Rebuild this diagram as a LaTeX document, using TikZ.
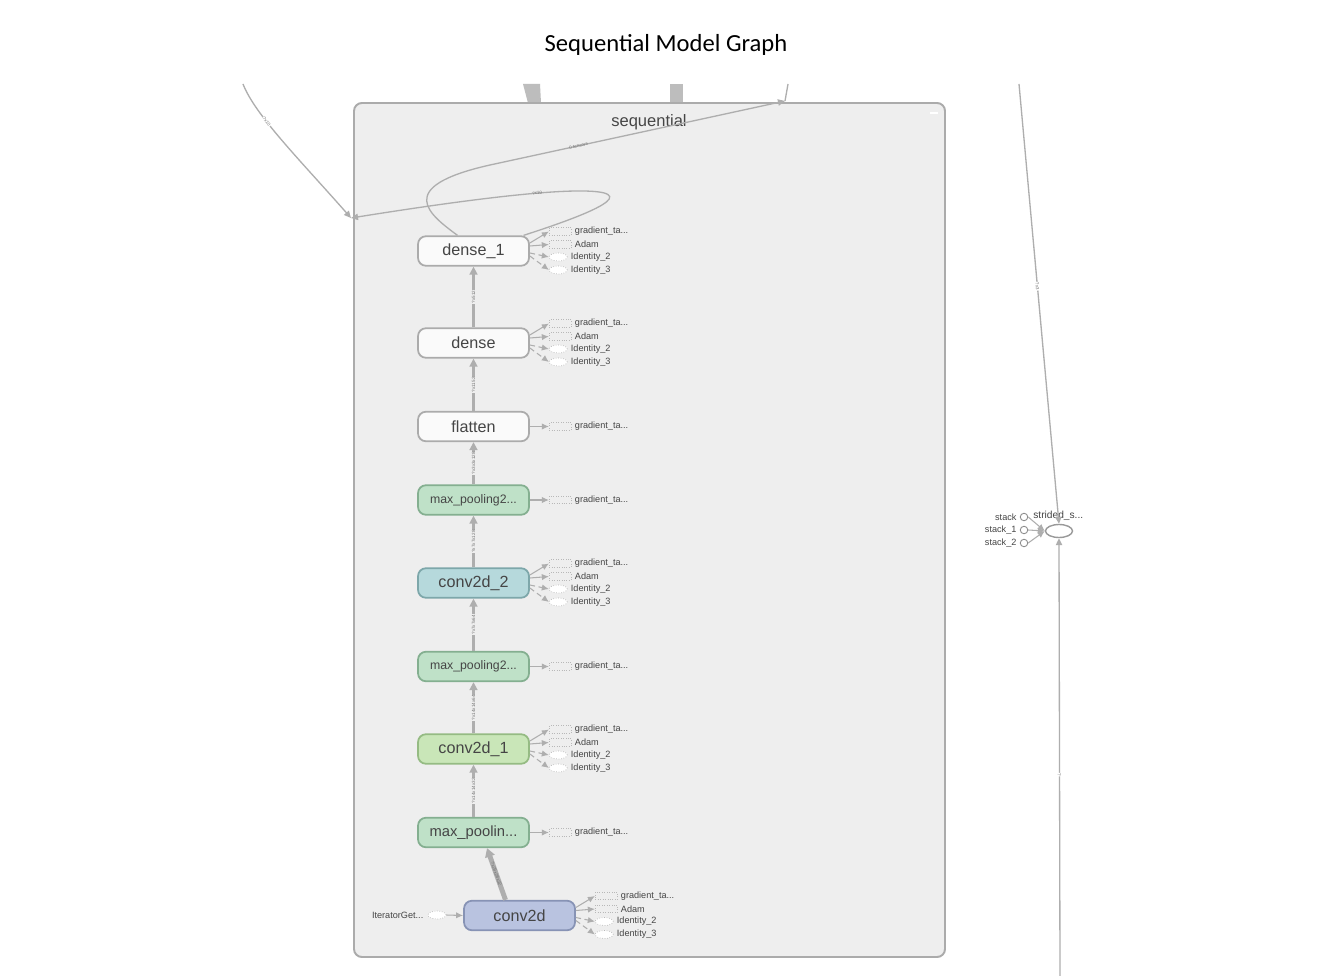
\documentclass[tikz,border=0pt]{standalone}
\usepackage{fontspec}
\setmainfont{Liberation Sans}
\newfontfamily\titlefont{Carlito}
\usetikzlibrary{calc,shapes.geometric,arrows.meta}

\definecolor{panelbg}{HTML}{EEEEEE}
\definecolor{panelrim}{HTML}{ABABAB}
\definecolor{edgegray}{HTML}{AEAEAE}
\definecolor{bargray}{HTML}{BDBDBD}
\definecolor{labgray}{HTML}{454545}
\definecolor{plainfill}{HTML}{FAFAFA}
\definecolor{plainrim}{HTML}{ABABAB}
\definecolor{poolfill}{HTML}{BFE1C8}
\definecolor{poolrim}{HTML}{84AF90}
\definecolor{convtwofill}{HTML}{B6D9DC}
\definecolor{convtworim}{HTML}{7DA7AA}
\definecolor{convonefill}{HTML}{C9E6B8}
\definecolor{convonerim}{HTML}{95BB83}
\definecolor{convfill}{HTML}{B9C3E0}
\definecolor{convrim}{HTML}{8793B5}

\tikzset{
  opnode/.style={draw=plainrim, fill=plainfill, line width=1pt, rounded corners=4.5pt,
    minimum width=2.22cm, minimum height=0.59cm, inner sep=0pt, text=labgray,
    font=\fontsize{9.2}{10}\selectfont},
  poolop/.style={opnode, draw=poolrim, fill=poolfill},
  sidebox/.style={draw=black!28, densely dotted, fill=panelbg, anchor=west,
    minimum width=0.44cm, minimum height=0.15cm, inner sep=0pt},
  sideoval/.style={ellipse, draw=black!28, densely dotted, fill=white, anchor=west,
    minimum width=0.36cm, minimum height=0.16cm, inner sep=0pt},
  sidelabel/.style={font=\fontsize{5.2}{6}\selectfont, text=labgray, anchor=west, inner sep=0pt},
  sideflow/.style={draw=edgegray, line width=0.6pt, -{Latex[length=4pt,width=3.6pt]}},
  sidedash/.style={sideflow, densely dashed},
  flow/.style={draw=edgegray, line width=1.4pt, -{Triangle[length=4.5pt,width=4.4pt]}},
  thinflow/.style={draw=edgegray, line width=0.75pt, -{Triangle[length=4pt,width=3.6pt]}},
  edgelab/.style={sloped, font=\fontsize{2.6}{3}\selectfont, text=black!55,
    fill=panelbg, inner sep=0.3pt},
  stackdot/.style={circle, draw=black!45, fill=white, line width=0.5pt,
    minimum size=0.15cm, inner sep=0pt},
}

% four outputs to the right of an op
\newcommand{\fourouts}[2]{%
  \node[sidebox] (#1-grad) at ($(#1.east)+(#2,-19.5)$) {};
  \node[sidebox] (#1-adam) at ($(#1.east)+(#2,-6.5)$) {};
  \node[sideoval] (#1-idtwo) at ($(#1.east)+(#2,6)$) {};
  \node[sideoval] (#1-idthree) at ($(#1.east)+(#2,19)$) {};
  \node[sidelabel] at ($(#1-grad.east)+(3,0)$) {gradient\_ta...};
  \node[sidelabel] at ($(#1-adam.east)+(3,0)$) {Adam};
  \node[sidelabel] at ($(#1-idtwo.east)+(3,0)$) {Identity\_2};
  \node[sidelabel] at ($(#1-idthree.east)+(3,0)$) {Identity\_3};
  \draw[sideflow] ($(#1.east)+(0,-8)$) -- (#1-grad.west);
  \draw[sideflow] ($(#1.east)+(0,-5)$) -- (#1-adam.west);
  \draw[sidedash] ($(#1.east)+(0,2)$) -- (#1-idtwo.west);
  \draw[sidedash] ($(#1.east)+(0,5)$) -- (#1-idthree.west);
}
% one gradient output to the right of an op
\newcommand{\oneout}[1]{%
  \node[sidebox] (#1-grad) at ($(#1.east)+(19,0)$) {};
  \node[sidelabel] at ($(#1-grad.east)+(3,0)$) {gradient\_ta...};
  \draw[sideflow] (#1.east) -- (#1-grad.west);
}

\begin{document}
\begin{tikzpicture}[x=0.02cm, y=-0.02cm]
  %%%%% FRAME %%%%%
  \fill[white] (0,0) rectangle (1342,976);
  \useasboundingbox (0,0) rectangle (1342,976);

  \node[font=\titlefont\fontsize{14}{16}\selectfont] (title) at (666,44.5) {Sequential Model Graph};

  \fill[bargray] (523,84) -- (540,84) -- (541,103) -- (528,103) -- cycle;
  \fill[bargray] (670,84) -- (683,84) -- (683,103) -- (670,103) -- cycle;

  %%%%% SEQUENTIAL PANEL %%%%%
  \draw[panelrim, fill=panelbg, line width=1.1pt, rounded corners=4.5pt] (354,103) rectangle (945,957);
  \draw[white, line width=1pt] (930,113) -- (938,113);
  \node[font=\fontsize{9.4}{10}\selectfont, text=labgray] (seqname) at (649,122.5) {sequential};

  %%%%% OPS %%%%%
  \node[opnode] (dense1) at (473.5,251) {dense\_1};
  \node[opnode] (dense) at (473.5,343) {dense};
  \node[opnode] (flatten) at (473.5,426.5) {flatten};
  \node[poolop, font=\fontsize{7}{8}\selectfont] (poolC) at (473.5,500) {max\_pooling2...};
  \node[opnode, draw=convtworim, fill=convtwofill] (conv2) at (473.5,583) {conv2d\_2};
  \node[poolop, font=\fontsize{7}{8}\selectfont] (poolB) at (473.5,666.5) {max\_pooling2...};
  \node[opnode, draw=convonerim, fill=convonefill] (conv1) at (473.5,749) {conv2d\_1};
  \node[poolop, font=\fontsize{8.4}{9}\selectfont] (poolA) at (473.5,832.5) {max\_poolin...};
  \node[opnode, draw=convrim, fill=convfill] (conv) at (519.5,915.5) {conv2d};

  %%%%% MAIN FLOW %%%%%
  \draw[flow, line width=2.8pt, -{Triangle[length=5pt,width=5.5pt]}] ($(conv.north)+(-14,0)$)
    -- node[edgelab, fill=none] {?x28x28x32} ($(poolA.south)+(13.5,0)$);
  \draw[flow] (poolA.north) -- node[edgelab] {?x14x14x32} (conv1.south);
  \draw[flow] (conv1.north) -- node[edgelab] {?x14x14x64} (poolB.south);
  \draw[flow] (poolB.north) -- node[edgelab] {?x7x7x64} (conv2.south);
  \draw[flow] (conv2.north) -- node[edgelab] {?x7x7x128} (poolC.south);
  \draw[flow] (poolC.north) -- node[edgelab] {?x3x3x128} (flatten.south);
  \draw[flow] (flatten.north) -- node[edgelab] {?x1152} (dense.south);
  \draw[flow] (dense.north) -- node[edgelab] {?x512} (dense1.south);

  %%%%% SIDE OUTPUTS %%%%%
  \fourouts{dense1}{19}
  \fourouts{dense}{19}
  \oneout{flatten}
  \oneout{poolC}
  \fourouts{conv2}{19}
  \oneout{poolB}
  \fourouts{conv1}{19}
  \oneout{poolA}
  \fourouts{conv}{19}

  \node[sideoval, anchor=center] (iterator) at (437,915) {};
  \node[sidelabel, anchor=east] at ($(iterator.west)+(-4,0)$) {IteratorGet...};
  \draw[sideflow] (iterator.east) -- (conv.west);

  %%%%% LOOPS AT THE TOP %%%%%
  \coordinate (outtop) at (785,101);
  \coordinate (joinleft) at (351,218);
  \coordinate (feedleft) at (243,84);
  \draw[thinflow] ($(dense1.north)+(-16,0)$) .. controls (430,215) and (392,187) .. (490,165)
    -- (outtop) node[edgelab, pos=0.3, fill=none] {0 tensors};
  \draw[edgegray, line width=0.75pt] (outtop) -- (788,84);
  \draw[thinflow] ($(dense1.north)+(50,0)$) .. controls (590,214) and (650,190) .. (575,191)
    .. controls (520,192) and (420,207) .. (joinleft) node[edgelab, pos=0.2, fill=none] {?x10};
  \draw[thinflow] (feedleft) .. controls (255,115) and (300,160) .. (joinleft)
    node[edgelab, pos=0.35, fill=white] {?x10};

  %%%%% STRIDED SLICE %%%%%
  \node[ellipse, draw=black!40, fill=white, line width=0.8pt, minimum width=0.54cm,
    minimum height=0.26cm, inner sep=0pt] (strided) at (1059,531) {};
  \node[sidelabel, font=\fontsize{5.8}{6}\selectfont] at (1033,516) {strided\_s...};
  \node[stackdot] (stack0) at (1024,517) {};
  \node[stackdot] (stack1) at (1024,530) {};
  \node[stackdot] (stack2) at (1024,543) {};
  \node[sidelabel, anchor=east] at ($(stack0.west)+(-3,0)$) {stack};
  \node[sidelabel, anchor=east] at ($(stack1.west)+(-3,0)$) {stack\_1};
  \node[sidelabel, anchor=east] at ($(stack2.west)+(-3,0)$) {stack\_2};
  \draw[sideflow] (stack0.east) -- (strided.west);
  \draw[sideflow] (stack1.east) -- (strided.west);
  \draw[sideflow] (stack2.east) -- (strided.west);
  \coordinate (slicetop) at (1019,84);
  \coordinate (slicebot) at (1060,976);
  \draw[thinflow] (slicetop) -- node[edgelab, pos=0.46, fill=white] {?x3} (strided.north);
  \draw[thinflow] (slicebot) -- node[edgelab, pos=0.46, fill=white] {?} (strided.south);
\end{tikzpicture}
\end{document}
